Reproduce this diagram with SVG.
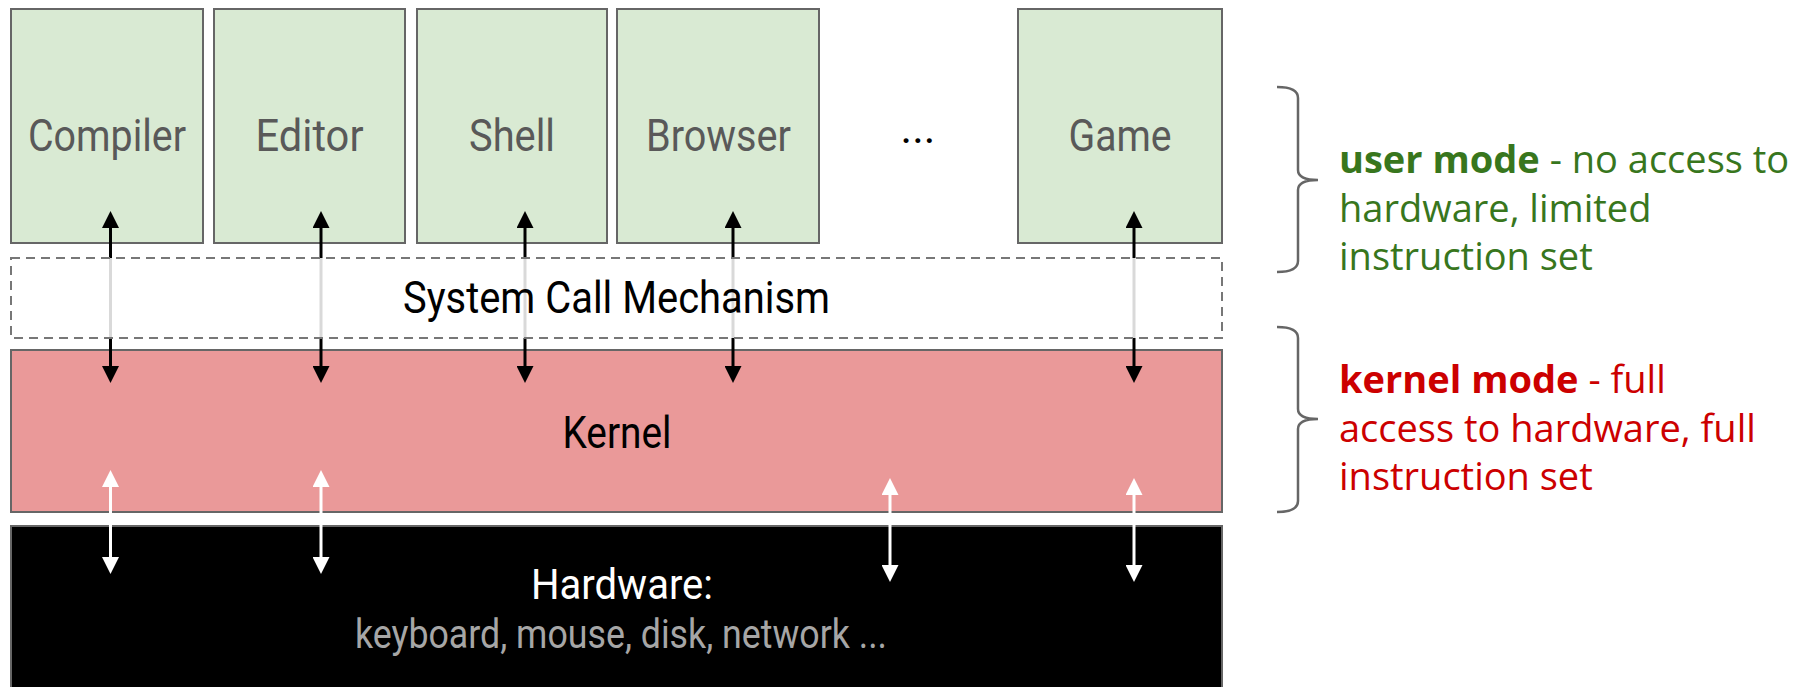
<svg xmlns="http://www.w3.org/2000/svg" width="1804" height="687" viewBox="0 0 1804 687">
  <style>
    .app { fill: #d9ead3; stroke: #666666; stroke-width: 2; }
    .applabel { font-family: Roboto, "Liberation Sans", sans-serif; font-size: 44px; fill: #595959; text-anchor: middle; }
    .layerlabel { font-family: Roboto, "Liberation Sans", sans-serif; font-size: 44px; fill: #000000; text-anchor: middle; }
    .sys { stroke: #000000; stroke-width: 3; fill: none; }
    .hw { stroke: #ffffff; stroke-width: 3; fill: none; }
    .brace { fill: none; stroke: #666666; stroke-width: 2.5; }
    .note { font-family: "Open Sans", "Noto Sans", sans-serif; font-size: 38px; }
  </style>
  <defs>
    <marker id="headBlack" viewBox="0 0 17 17" refX="0" refY="8.5" markerWidth="17" markerHeight="17" markerUnits="userSpaceOnUse" orient="auto-start-reverse">
      <path d="M0,0 L17,8.5 L0,17 z" fill="#000000"/>
    </marker>
    <marker id="headWhite" viewBox="0 0 17 17" refX="0" refY="8.5" markerWidth="17" markerHeight="17" markerUnits="userSpaceOnUse" orient="auto-start-reverse">
      <path d="M0,0 L17,8.5 L0,17 z" fill="#ffffff"/>
    </marker>
  </defs>

  <rect width="1804" height="687" fill="#ffffff"/>

  <!-- applications -->
  <g id="compiler">
    <rect class="app" x="11" y="9" width="192" height="234"/>
    <text class="applabel" x="107" y="151" textLength="158" lengthAdjust="spacingAndGlyphs">Compiler</text>
  </g>
  <g id="editor">
    <rect class="app" x="214" y="9" width="191" height="234"/>
    <text class="applabel" x="309.5" y="151" textLength="108" lengthAdjust="spacingAndGlyphs">Editor</text>
  </g>
  <g id="shell">
    <rect class="app" x="417" y="9" width="190" height="234"/>
    <text class="applabel" x="512" y="151" textLength="86" lengthAdjust="spacingAndGlyphs">Shell</text>
  </g>
  <g id="browser">
    <rect class="app" x="617" y="9" width="202" height="234"/>
    <text class="applabel" x="718.5" y="151" textLength="145" lengthAdjust="spacingAndGlyphs">Browser</text>
  </g>
  <g id="more">
    <text x="918" y="143" font-family="Roboto, 'Liberation Sans', sans-serif" font-size="44" fill="#000000" text-anchor="middle">...</text>
  </g>
  <g id="game">
    <rect class="app" x="1018" y="9" width="204" height="234"/>
    <text class="applabel" x="1120" y="151" textLength="103" lengthAdjust="spacingAndGlyphs">Game</text>
  </g>

  <!-- kernel -->
  <g id="kernel">
    <rect x="11" y="350" width="1211" height="162" fill="#ea9999" stroke="#666666" stroke-width="2"/>
    <text class="layerlabel" x="617" y="448" textLength="109" lengthAdjust="spacingAndGlyphs">Kernel</text>
  </g>

  <!-- hardware -->
  <g id="hardware">
    <rect x="11" y="526" width="1211" height="175" fill="#000000" stroke="#666666" stroke-width="2"/>
    <text x="622" y="599" font-family="Roboto, 'Liberation Sans', sans-serif" font-size="42" fill="#ffffff" text-anchor="middle" textLength="182" lengthAdjust="spacingAndGlyphs">Hardware:</text>
    <text x="621" y="648" font-family="Roboto, 'Liberation Sans', sans-serif" font-size="40" fill="#a6a6a6" text-anchor="middle" textLength="532" lengthAdjust="spacingAndGlyphs">keyboard, mouse, disk, network ...</text>
  </g>

  <!-- connectors -->
  <g id="connectors">
    <line class="sys" x1="110.5" y1="228" x2="110.5" y2="366" marker-start="url(#headBlack)" marker-end="url(#headBlack)"/>
    <line class="sys" x1="321" y1="228" x2="321" y2="366" marker-start="url(#headBlack)" marker-end="url(#headBlack)"/>
    <line class="sys" x1="525" y1="228" x2="525" y2="366" marker-start="url(#headBlack)" marker-end="url(#headBlack)"/>
    <line class="sys" x1="733" y1="228" x2="733" y2="366" marker-start="url(#headBlack)" marker-end="url(#headBlack)"/>
    <line class="sys" x1="1134" y1="228" x2="1134" y2="366" marker-start="url(#headBlack)" marker-end="url(#headBlack)"/>

    <line class="hw" x1="110.5" y1="487" x2="110.5" y2="557" marker-start="url(#headWhite)" marker-end="url(#headWhite)"/>
    <line class="hw" x1="321" y1="487" x2="321" y2="557" marker-start="url(#headWhite)" marker-end="url(#headWhite)"/>
    <line class="hw" x1="890" y1="495" x2="890" y2="565" marker-start="url(#headWhite)" marker-end="url(#headWhite)"/>
    <line class="hw" x1="1134" y1="495" x2="1134" y2="565" marker-start="url(#headWhite)" marker-end="url(#headWhite)"/>
  </g>

  <!-- system call layer, translucent so the calls show through -->
  <g id="syscall">
    <rect x="11" y="258" width="1211" height="80" fill="#ffffff" fill-opacity="0.85" stroke="#777777" stroke-width="2" stroke-dasharray="9,6"/>
    <text class="layerlabel" x="616.5" y="313" textLength="427" lengthAdjust="spacingAndGlyphs">System Call Mechanism</text>
  </g>

  <!-- mode annotations -->
  <g id="user-mode">
    <path class="brace" d="M1277,87 Q1298,87 1298,98 L1298,170 Q1298,180 1318,180 Q1298,180 1298,190 L1298,261 Q1298,272 1277,272"/>
    <text class="note" fill="#38761d" x="1339" y="173"><tspan font-weight="bold">user mode</tspan> - no access to<tspan x="1339" dy="48.5">hardware, limited</tspan><tspan x="1339" dy="48.5">instruction set</tspan></text>
  </g>
  <g id="kernel-mode">
    <path class="brace" d="M1277,327 Q1298,327 1298,338 L1298,409 Q1298,419 1318,419 Q1298,419 1298,429 L1298,501 Q1298,512 1277,512"/>
    <text class="note" fill="#cc0000" x="1339" y="393"><tspan font-weight="bold">kernel mode</tspan> - full<tspan x="1339" dy="48.5">access to hardware, full</tspan><tspan x="1339" dy="48.5">instruction set</tspan></text>
  </g>
</svg>
